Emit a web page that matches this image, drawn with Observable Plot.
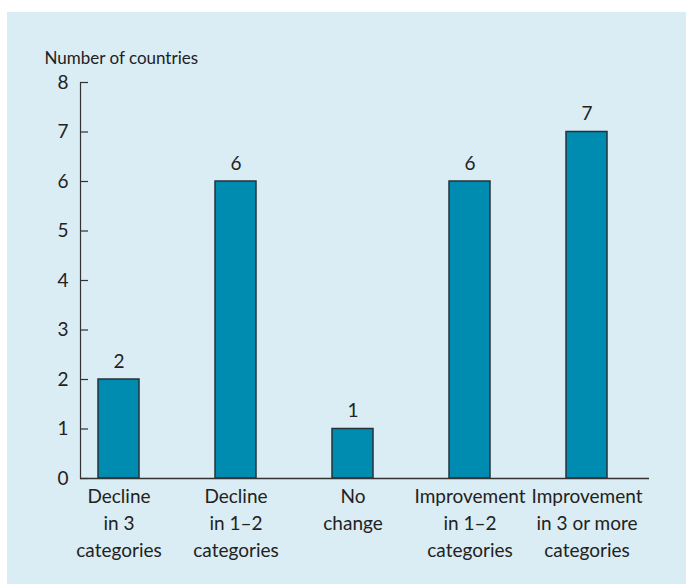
<!DOCTYPE html>
<html><head><meta charset="utf-8">
<script src="https://cdn.jsdelivr.net/npm/d3@7"></script>
<script src="https://cdn.jsdelivr.net/npm/@observablehq/plot@0.6"></script>
<style>
body{margin:0;background:#fff;}
#panel{position:absolute;left:7px;top:12px;width:679px;height:572px;background:#daecf4;}
</style></head><body><div id="panel"></div>
<script>
const categories = [
  "Decline\nin 3\ncategories",
  "Decline\nin 1–2\ncategories",
  "No\nchange",
  "Improvement\nin 1–2\ncategories",
  "Improvement\nin 3 or more\ncategories"
];
const values = [2, 6, 1, 6, 7];
const yTicks = [0, 1, 2, 3, 4, 5, 6, 7, 8];
const yLabel = "Number of countries";

const data = categories.map((c, i) => ({category: c, value: values[i]}));
const font = "Lato, sans-serif";

const chart = Plot.plot({
  width: 679, height: 572,
  marginLeft: 73, marginRight: 37, marginTop: 70, marginBottom: 106,
  style: {background: "transparent", fontFamily: font, fontSize: "19px", color: "#222"},
  x: {domain: categories, paddingInner: 0.646, paddingOuter: 0.25, align: 0.31},
  y: {domain: [0, 8]},
  marks: [
    Plot.barY(data, {x: "category", y: "value", fill: "#008bb0", stroke: "#263238", strokeWidth: 1.5}),
    Plot.ruleY([0], {stroke: "#333", strokeWidth: 1.5}),
    Plot.frame({anchor: "left", stroke: "#333", strokeWidth: 1.2}),
    Plot.text(data, {x: "category", y: "value", text: d => String(d.value), lineAnchor: "bottom", dy: -12, fill: "#222"}),
    Plot.axisY(yTicks, {tickSize: -8, tickPadding: 20, tickFormat: d => String(d), label: null, stroke: "#333", strokeWidth: 1.2}),
    Plot.text([yLabel], {frameAnchor: "top-left", text: d => d, textAnchor: "start", lineAnchor: "bottom", dx: -36, dy: -19, fontSize: 17, fill: "#222"}),
    Plot.axisX({tickSize: 0, tickPadding: 6, label: null, lineHeight: 1.4})
  ]
});
document.getElementById("panel").appendChild(chart);
</script></body></html>
